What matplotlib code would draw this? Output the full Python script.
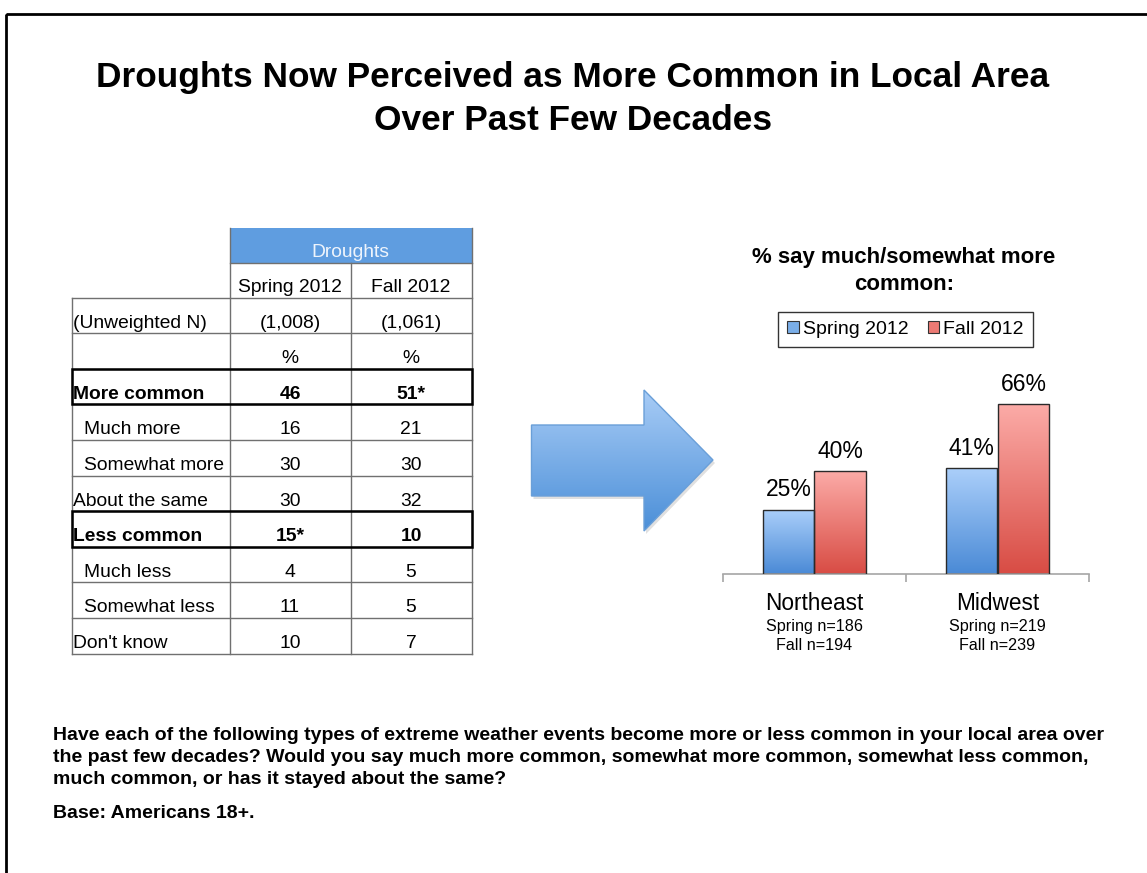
import numpy as np
import matplotlib
matplotlib.use('Agg')
import matplotlib.pyplot as plt
from matplotlib.patches import Rectangle, Polygon, Patch
from matplotlib.colors import LinearSegmentedColormap

plt.rcParams['font.family'] = ['Liberation Sans', 'DejaVu Sans']

# datos de la tabla
row_labels = ["(Unweighted N)", "", "More common", "Much more", "Somewhat more",
              "About the same", "Less common", "Much less", "Somewhat less", "Don't know"]
spring_col = ["(1,008)", "%", "46", "16", "30", "30", "15*", "4", "11", "10"]
fall_col = ["(1,061)", "%", "51*", "21", "30", "32", "10", "5", "5", "7"]
col_headers = ["Spring 2012", "Fall 2012"]
bold_rows = [2, 6]
indent_rows = [3, 4, 7, 8]

# datos del grafico de barras
regiones = ["Northeast", "Midwest"]
n_spring = ["Spring n=186", "Spring n=219"]
n_fall = ["Fall n=194", "Fall n=239"]
pct_spring = [25, 41]
pct_fall = [40, 66]
series = ["Spring 2012", "Fall 2012"]

W, H = 1147, 873
fig = plt.figure(figsize=(W / 100, H / 100), dpi=100)
fig.patch.set_facecolor('white')

# capa base en pixeles
ax0 = fig.add_axes([0, 0, 1, 1])
ax0.set_xlim(0, W)
ax0.set_ylim(H, 0)
ax0.axis('off')

ax0.add_patch(Rectangle((6, 14), W + 20, H + 20, fill=False, lw=2, ec='black'))

ax0.text(573, 78, "Droughts Now Perceived as More Common in Local Area", ha='center', va='center',
         fontsize=25.4, fontweight='bold')
ax0.text(573, 120, "Over Past Few Decades", ha='center', va='center', fontsize=25.4, fontweight='bold')

# ---- tabla ----
x_left, x_c1, x_c2, x_right = 71.5, 229.5, 350.5, 471.5
y_head0, y_head1, y_tab = 227.5, 262.5, 297.5
rh = (653.5 - y_tab) / len(row_labels)
thin = dict(color='#707070', lw=1.0)
fs_tab = 13.9

ax0.add_patch(Rectangle((x_c1, y_head0), x_right - x_c1, y_head1 - y_head0, fc='#5f9de0', ec='none'))
ax0.text((x_c1 + x_right) / 2, y_head1 - 10, "Droughts", ha='center', va='center',
         fontsize=fs_tab, color='#eef4fc')
for k, hdr in enumerate(col_headers):
    cx = (x_c1 + x_c2) / 2 if k == 0 else (x_c2 + x_right) / 2
    ax0.text(cx, y_tab - 10, hdr, ha='center', va='center', fontsize=fs_tab)

ax0.plot([x_c1, x_right], [y_head1, y_head1], **thin)
ax0.plot([x_c1, x_c1], [y_head0, 653.5], **thin)
ax0.plot([x_c2, x_c2], [y_head1, 653.5], **thin)
ax0.plot([x_right, x_right], [y_head0, 653.5], **thin)
ax0.plot([x_left, x_left], [y_tab, 653.5], **thin)
for i in range(len(row_labels) + 1):
    yy = y_tab + i * rh
    ax0.plot([x_left, x_right], [yy, yy], **thin)

for i, lab in enumerate(row_labels):
    y_txt = y_tab + (i + 1) * rh - 10
    peso = 'bold' if i in bold_rows else 'normal'
    lx = x_left + (13 if i in indent_rows else 1.5)
    ax0.text(lx, y_txt, lab, ha='left', va='center', fontsize=fs_tab, fontweight=peso)
    ax0.text((x_c1 + x_c2) / 2, y_txt, spring_col[i], ha='center', va='center',
             fontsize=fs_tab, fontweight=peso)
    ax0.text((x_c2 + x_right) / 2, y_txt, fall_col[i], ha='center', va='center',
             fontsize=fs_tab, fontweight=peso)
    if i in bold_rows:
        ax0.add_patch(Rectangle((x_left, y_tab + i * rh), x_right - x_left, rh,
                                fill=False, ec='black', lw=1.8, zorder=4))

# ---- flecha ----
flecha = [(531.5, 425), (644, 425), (644, 390), (713, 460), (644, 531), (644, 496), (531.5, 496)]
sombra = Polygon([(x + 2, y + 3) for x, y in flecha], closed=True, fc='#000000', alpha=0.12, ec='none')
ax0.add_patch(sombra)
poly = Polygon(flecha, closed=True, fc='none', ec='#6a9fd8', lw=1.0, zorder=3)
ax0.add_patch(poly)
cm_flecha = LinearSegmentedColormap.from_list('fl', ['#a8ccf6', '#4b8fd8'])
grad = np.linspace(0, 1, 256).reshape(-1, 1)
im = ax0.imshow(grad, extent=[531, 714, 531, 390], cmap=cm_flecha, aspect='auto', zorder=2)
im.set_clip_path(poly)
ax0.set_xlim(0, W)
ax0.set_ylim(H, 0)

# ---- preguntas al pie ----
pie = ["Have each of the following types of extreme weather events become more or less common in your local area over",
       "the past few decades? Would you say much more common, somewhat more common, somewhat less common,",
       "much common, or has it stayed about the same?"]
for k, linea in enumerate(pie):
    ax0.text(53, 736 + 22 * k, linea, ha='left', va='center', fontsize=14, fontweight='bold')
ax0.text(53, 813, "Base: Americans 18+.", ha='left', va='center', fontsize=14, fontweight='bold')

# ---- grafico de barras ----
ax0.text(904, 258, "% say much/somewhat more", ha='center', va='center', fontsize=16, fontweight='bold')
ax0.text(904, 285, "common:", ha='center', va='center', fontsize=16, fontweight='bold')

ymax = 75
px_per = 2.58
ax_l, ax_r, ax_b = 723, 1089, 574
ax_h = ymax * px_per
ax = fig.add_axes([ax_l / W, 1 - ax_b / H, (ax_r - ax_l) / W, ax_h / H])
ax.patch.set_alpha(0)

x = np.arange(len(regiones))
bw = 0.284
cm_azul = LinearSegmentedColormap.from_list('az', ['#4a8ad6', '#abcffa'])
cm_rojo = LinearSegmentedColormap.from_list('ro', ['#d84c44', '#fcaca8'])
b1 = ax.bar(x - bw / 2, pct_spring, bw, fc='none', ec='#2a2a2a', lw=1.0, zorder=3)
b2 = ax.bar(x + bw / 2, pct_fall, bw, fc='none', ec='#2a2a2a', lw=1.0, zorder=3)
for barras, cmap in [(b1, cm_azul), (b2, cm_rojo)]:
    for b in barras:
        bx, by = b.get_x(), b.get_y()
        im = ax.imshow(grad[::-1], extent=[bx, bx + b.get_width(), by, by + b.get_height()],
                       cmap=cmap, aspect='auto', origin='upper', zorder=2)
        im.set_clip_path(b)
        ax.annotate(f"{int(b.get_height())}%", (bx + b.get_width() / 2, b.get_height()),
                    xytext=(0, 13), textcoords='offset pixels', ha='center', va='baseline',
                    fontsize=16.5)

ax.set_xlim(-0.5, 1.5)
ax.set_ylim(0, ymax)
for s in ['top', 'right', 'left']:
    ax.spines[s].set_visible(False)
ax.spines['bottom'].set_color('#a6a6a6')
ax.spines['bottom'].set_linewidth(1.2)
ax.set_yticks([])
ax.set_xticks([-0.5, 0.5, 1.5])
ax.set_xticklabels([])
ax.tick_params(axis='x', length=6, width=1.2, color='#a6a6a6', direction='out')

for i, reg in enumerate(regiones):
    ax.annotate(reg, (x[i], 0), xycoords=('data', 'axes fraction'), xytext=(0, -29),
                textcoords='offset pixels', ha='center', va='center', fontsize=16.3)
    ax.annotate(n_spring[i], (x[i], 0), xycoords=('data', 'axes fraction'), xytext=(0, -53),
                textcoords='offset pixels', ha='center', va='center', fontsize=11.6)
    ax.annotate(n_fall[i], (x[i], 0), xycoords=('data', 'axes fraction'), xytext=(0, -72),
                textcoords='offset pixels', ha='center', va='center', fontsize=11.6)

handles = [Patch(fc='#7aaee8', ec='#333333', lw=0.8), Patch(fc='#ec7a74', ec='#333333', lw=0.8)]
leg = fig.legend(handles, series, loc='center', bbox_to_anchor=(905.5 / W, 1 - 329.5 / H),
                 ncol=2, fontsize=14, frameon=True, fancybox=False, edgecolor='black',
                 handlelength=0.6, handleheight=0.6, handletextpad=0.2, columnspacing=1.0,
                 borderpad=0.45)
leg.get_frame().set_linewidth(1.0)

plt.savefig("out.png", dpi=100)
